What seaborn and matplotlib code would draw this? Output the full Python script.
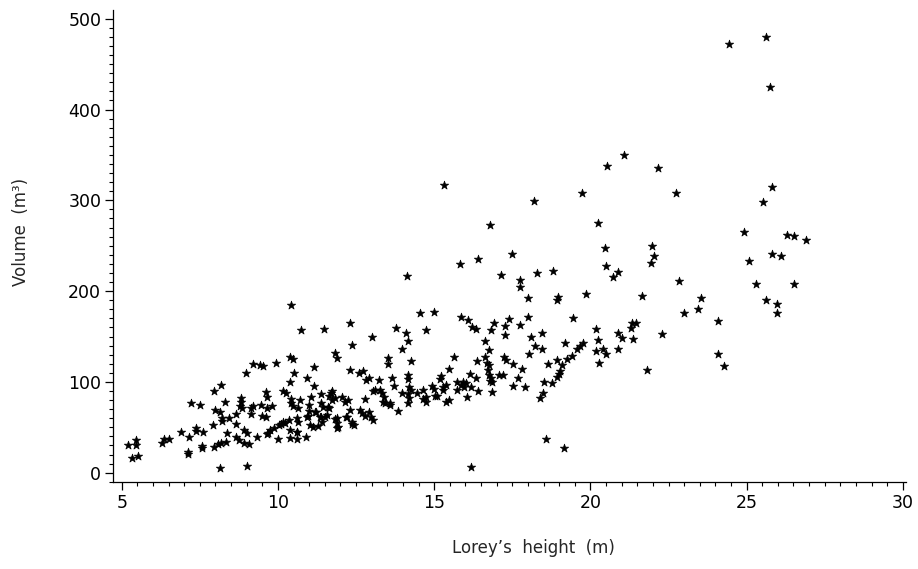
import numpy as np
import pandas as pd
import matplotlib
matplotlib.use("Agg")
import matplotlib.pyplot as plt
from matplotlib.ticker import MultipleLocator
import seaborn as sns

# Lorey's height (m) and stand volume (m3)
height = [
    5.21, 5.46, 5.46, 5.34, 5.51, 6.28, 6.36, 6.51, 6.89, 7.16, 7.12, 7.12,
    7.21, 7.50, 7.37, 7.39, 7.61, 7.56, 7.58, 7.91, 7.96, 8.17, 8.00, 8.30,
    8.13, 8.21, 8.21, 8.43, 8.65, 8.65, 8.37, 7.95, 8.08, 8.19, 8.34, 8.15,
    8.65, 8.74, 8.82, 8.82, 8.79, 8.84, 8.97, 8.91, 9.00, 8.91, 9.08, 9.00,
    9.14, 9.19, 9.13, 9.21, 9.43, 9.53, 9.34, 9.46, 9.61, 9.64, 9.65, 9.62,
    9.48, 9.64, 9.69, 9.80, 9.93, 9.87, 9.75, 9.99, 10.04, 10.10, 10.16, 10.23,
    10.15, 10.25, 10.38, 10.42, 10.38, 10.49, 10.35, 10.42, 10.42, 10.48, 10.38, 10.38,
    10.50, 10.60, 10.63, 10.70, 10.60, 10.60, 10.62, 10.65, 10.74, 10.89, 10.94, 10.96,
    11.00, 11.00, 11.05, 11.15, 11.15, 11.20, 11.29, 11.37, 11.40, 11.37, 11.47, 11.50,
    11.64, 11.69, 11.74, 11.72, 11.83, 11.90, 11.90, 11.90, 11.83, 12.06, 12.15, 12.22,
    12.30, 12.30, 11.38, 11.45, 11.61, 11.56, 11.89, 11.93, 11.03, 11.13, 11.83, 11.64,
    10.92, 11.22, 11.35,
    12.25, 12.36, 12.60, 12.71, 12.82, 12.92, 12.79, 12.30, 12.18, 12.38, 12.43, 12.37,
    12.63, 12.68, 12.79, 12.92, 12.97, 13.03, 13.00, 13.05, 13.24, 13.10, 13.27, 13.33,
    13.38, 13.36, 13.44, 13.57, 13.60, 13.53, 13.53, 13.78, 13.64, 13.71, 13.85, 13.96,
    14.09, 14.17, 13.96, 14.25, 14.14, 14.17, 14.17, 14.20, 14.17, 14.20, 14.17, 14.25,
    14.53, 14.74, 15.00, 14.46, 14.65, 14.74, 14.74, 14.65, 14.92, 15.01, 15.10, 15.22,
    15.17, 15.28, 15.38, 15.38, 15.48, 15.27, 15.47, 15.63, 15.72, 15.72, 15.83, 15.85,
    16.09, 16.20, 16.34, 15.85, 15.91, 15.96, 16.01, 16.04, 16.15, 16.17, 16.18, 16.34,
    16.39, 16.40, 16.38, 16.63, 16.75, 16.63, 16.69, 16.74, 16.72, 16.77, 16.82, 16.85,
    16.78, 16.84, 16.92, 16.83, 17.14, 17.08, 17.20, 17.27, 17.27, 17.24, 17.30, 17.39,
    17.50, 17.51, 17.51, 17.69, 17.75, 17.75, 17.75, 17.80, 17.90, 17.99, 17.99, 18.04,
    18.10, 18.23, 18.28, 18.39, 18.47, 18.51, 18.44, 18.46, 18.58, 18.65, 18.78, 18.81,
    18.94, 18.94, 18.95, 18.94, 19.00, 19.04, 19.10, 19.16, 19.20, 19.24, 19.40, 19.45,
    19.56, 19.67, 19.77, 19.86, 15.30, 16.78, 18.20, 19.74, 15.00,
    24.44, 25.61, 25.75, 21.07, 20.52, 22.17, 22.74, 25.80, 25.53, 20.25, 24.91, 26.30,
    26.52, 26.90, 20.48, 21.96, 22.03, 21.93, 20.49, 20.87, 20.71, 25.80, 26.09, 25.08,
    21.66, 22.82, 25.31, 26.53, 23.55, 23.43, 22.98, 25.61, 25.97, 25.97, 24.07, 20.19,
    20.23, 20.19, 20.27, 20.89, 21.00, 20.87, 20.41, 20.50, 21.29, 21.46, 21.32, 21.35,
    21.82, 22.30, 24.09, 24.28,
]
volume = [
    31.0, 36.0, 31.0, 16.5, 18.4, 33.0, 37.5, 37.0, 44.8, 39.3, 22.4, 20.2,
    77.0, 74.6, 49.6, 46.5, 44.8, 26.9, 29.0, 52.5, 90.3, 96.6, 69.0, 78.2,
    67.0, 60.0, 57.5, 60.6, 64.3, 53.5, 43.4, 28.6, 31.6, 33.0, 34.1, 5.5,
    39.7, 36.0, 82.6, 78.0, 73.5, 71.0, 110.0, 47.0, 44.0, 33.0, 31.6, 7.7,
    71.0, 73.5, 64.9, 119.4, 118.6, 117.5, 39.7, 74.6, 89.2, 83.7, 71.6, 61.0,
    62.0, 42.6, 44.0, 73.4, 120.8, 48.9, 47.0, 37.0, 52.5, 53.5, 56.0, 55.0,
    90.3, 87.5, 100.2, 184.7, 127.8, 125.3, 58.4, 80.8, 77.0, 73.5, 47.0, 37.9,
    110.1, 60.2, 71.0, 79.7, 45.2, 36.7, 44.5, 56.0, 157.0, 39.0, 104.0, 62.0,
    68.0, 74.6, 83.7, 116.8, 95.5, 67.0, 51.4, 61.0, 56.2, 86.5, 158.0, 61.6,
    71.0, 87.4, 90.0, 79.7, 131.5, 126.0, 55.0, 49.0, 58.7, 83.7, 78.0, 61.6,
    165.0, 113.5, 76.4, 72.7, 72.7, 63.5, 60.2, 50.3, 52.5, 50.7, 82.0, 85.0,
    61.7, 67.2, 61.7,
    80.0, 140.6, 109.4, 112.3, 102.0, 104.6, 81.2, 69.0, 61.6, 55.8, 52.5, 54.0,
    69.0, 65.4, 62.8, 66.5, 61.6, 58.0, 149.8, 90.3, 102.0, 91.0, 91.0, 87.5,
    83.8, 78.3, 76.5, 74.6, 77.0, 126.0, 119.3, 159.7, 104.0, 95.5, 68.0, 88.0,
    153.5, 145.0, 136.0, 123.0, 216.6, 107.6, 102.8, 94.5, 86.5, 81.8, 77.0, 91.0,
    176.0, 157.0, 177.0, 87.4, 91.0, 83.7, 78.3, 81.7, 95.5, 84.0, 84.0, 106.5,
    103.3, 94.5, 97.0, 77.5, 80.0, 91.0, 114.2, 127.8, 100.2, 91.0, 229.5, 171.0,
    168.2, 160.0, 158.3, 96.6, 99.5, 94.5, 99.0, 83.7, 108.7, 94.5, 6.6, 104.0,
    235.0, 89.6, 123.0, 145.4, 135.0, 127.3, 121.0, 118.4, 113.0, 107.6, 104.0, 100.2,
    100.9, 89.2, 164.5, 157.0, 217.7, 107.6, 107.6, 161.6, 152.0, 127.0, 124.0, 169.0,
    240.8, 119.4, 95.5, 104.6, 212.0, 205.0, 162.7, 113.9, 94.7, 192.0, 171.8, 130.7,
    149.8, 139.5, 219.6, 82.6, 88.0, 100.2, 153.5, 136.2, 36.8, 119.4, 98.5, 222.5,
    124.0, 190.0, 194.0, 105.5, 109.0, 112.0, 118.4, 27.5, 142.5, 124.9, 128.5, 170.0,
    136.0, 139.5, 142.5, 196.5, 317.0, 272.8, 299.5, 307.7, 91.7,
    472.5, 479.8, 425.0, 349.5, 337.8, 335.6, 308.4, 314.3, 298.0, 275.3, 265.4, 261.8,
    261.0, 256.3, 247.1, 250.0, 238.7, 230.6, 228.0, 221.4, 215.5, 241.2, 239.0, 233.2,
    194.6, 211.1, 208.2, 208.2, 192.7, 180.3, 175.9, 190.2, 185.5, 176.2, 167.4, 158.3,
    145.8, 134.0, 120.8, 154.2, 148.0, 135.9, 136.2, 130.7, 159.0, 164.5, 164.5, 146.9,
    113.1, 152.4, 130.7, 117.2,
]

x_ticks = [5, 10, 15, 20, 25, 30]
y_ticks = [0, 100, 200, 300, 400, 500]

df = pd.DataFrame({"height": height, "volume": volume})

sns.set_style("ticks")
plt.rcParams["font.family"] = ["DejaVu Sans"]

fig = plt.figure(figsize=(9.18, 5.69), dpi=100)
ax = fig.add_axes([0.1231, 0.1529, 0.8638, 0.8295])

sns.scatterplot(data=df, x="height", y="volume", marker="*", s=40,
                color="black", edgecolor="black", linewidth=0.5, ax=ax)

ax.set_xlim(4.72, 30.1)
ax.set_ylim(-10.2, 509.6)
ax.set_xticks(x_ticks)
ax.set_yticks(y_ticks)
ax.xaxis.set_minor_locator(MultipleLocator(0.5))
ax.yaxis.set_minor_locator(MultipleLocator(10))
ax.tick_params(which="major", length=6, width=0.9, color="black",
               labelsize=12.5, pad=2.5, labelcolor="black")
ax.tick_params(which="minor", length=3, width=0.8, color="black")

sns.despine(ax=ax)
for side in ["left", "bottom"]:
    ax.spines[side].set_color("black")
    ax.spines[side].set_linewidth(0.9)

ax.set_xlabel("Lorey\u2019s  height  (m)", fontsize=12)
ax.set_ylabel("Volume  (m\u00b3)", fontsize=12)
ax.xaxis.set_label_coords(0.53, -0.12)
ax.yaxis.set_label_coords(-0.105, 0.53)

fig.savefig("out.png", dpi=100, facecolor="white")
